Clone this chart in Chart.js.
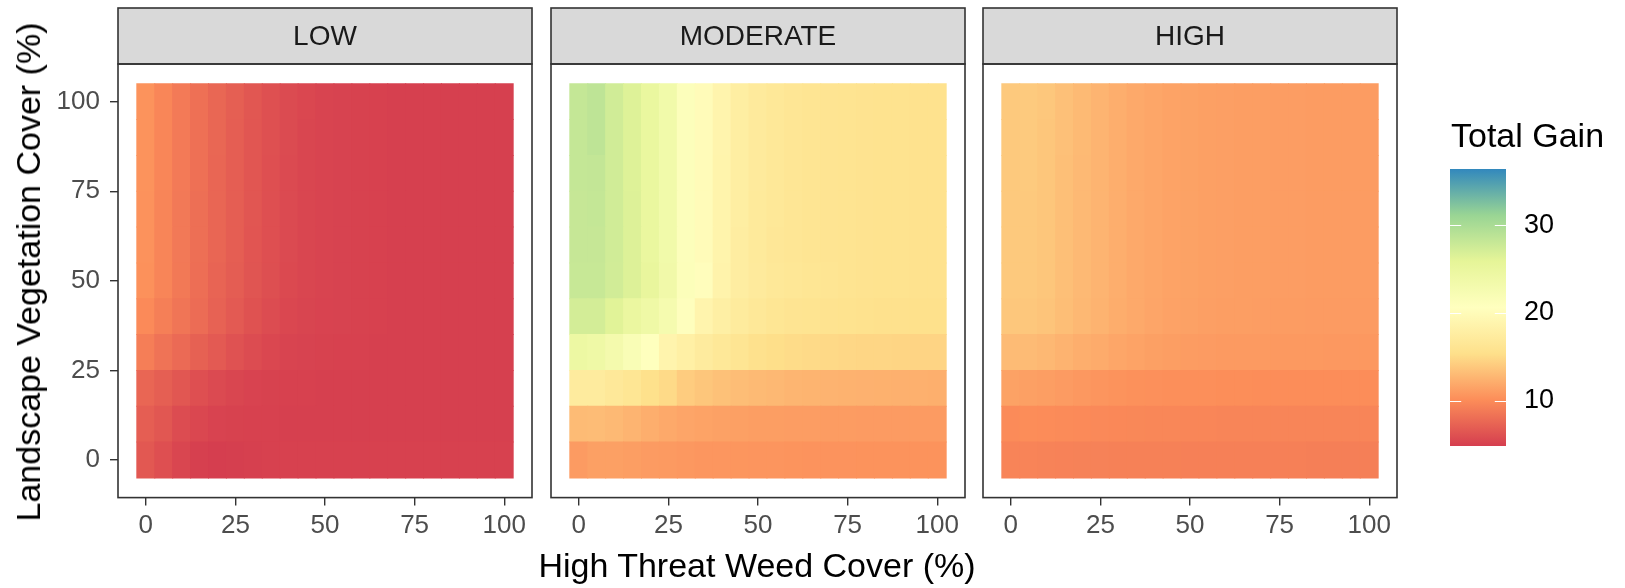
<!DOCTYPE html>
<html>
<head>
<meta charset="utf-8">
<title>Total Gain heatmaps</title>
<script src="https://cdn.jsdelivr.net/npm/chart.js@4.4.1/dist/chart.umd.min.js"></script>
<style>
  body { margin: 0; background: #fff; }
  #wrap { position: relative; width: 1625px; height: 588px; overflow: hidden; font-family: 'Liberation Sans', Arial, sans-serif; }
  #wrap canvas { position: absolute; top: 0; }
  .lbl { position: absolute; white-space: nowrap; font-size: 34px; line-height: 1; color: #000; }
</style>
</head>
<body>
<div id="wrap">
  <canvas id="lowChart" width="546" height="588" style="left:0px"></canvas>
  <canvas id="moderateChart" width="546" height="588" style="left:433px"></canvas>
  <canvas id="highChart" width="546" height="588" style="left:865px"></canvas>
  <canvas id="legendChart" width="215" height="588" style="left:1410px"></canvas>
  <div class="lbl" id="xTitle" style="left:757px; top:548px; transform:translateX(-50%);">High Threat Weed Cover (%)</div>
  <div class="lbl" id="yTitle" style="left:28px; top:272px; transform:translate(-50%,-50%) rotate(-90deg);">Landscape Vegetation Cover (%)</div>
  <div class="lbl" id="legendTitle" style="left:1451px; top:118px;">Total Gain</div>
</div>
<script>
// axes / categories
const weedCover = [0, 5, 10, 15, 20, 25, 30, 35, 40, 45, 50, 55, 60, 65, 70, 75, 80, 85, 90, 95, 100];
const vegCover = [0, 10, 20, 30, 40, 50, 60, 70, 80, 90, 100];
const xTicks = [0, 25, 50, 75, 100];
const yTicks = [0, 25, 50, 75, 100];
const legendTicks = [10, 20, 30];
const panelNames = ["LOW", "MODERATE", "HIGH"];

// Total Gain, one row per vegetation cover (0 at the bottom), one value per weed cover
const lowGain = [
  [6.6, 6.0, 5.4, 4.95, 4.85, 4.9, 5.0, 5.05, 5.05, 5.05, 5.05, 5.05, 5.05, 5.05, 5.05, 5.05, 5.05, 5.05, 5.05, 5.05, 5.05],
  [7.0, 6.5, 5.8, 5.45, 5.2, 5.1, 5.05, 5.05, 5.0, 5.0, 5.0, 5.0, 5.0, 5.0, 5.0, 5.0, 5.0, 5.0, 5.0, 5.0, 5.0],
  [7.5, 7.05, 6.5, 6.0, 5.65, 5.4, 5.2, 5.1, 5.05, 5.05, 5.0, 5.0, 5.0, 5.0, 5.0, 5.0, 5.0, 5.0, 5.0, 5.0, 5.0],
  [9.1, 8.4, 7.8, 7.2, 6.7, 6.2, 5.75, 5.45, 5.25, 5.15, 5.1, 5.05, 5.05, 5.0, 5.0, 5.0, 5.0, 5.0, 5.0, 5.0, 5.0],
  [9.9, 9.2, 8.5, 7.9, 7.25, 6.7, 6.15, 5.75, 5.45, 5.3, 5.2, 5.15, 5.1, 5.05, 5.0, 5.0, 5.0, 5.0, 5.0, 5.0, 5.0],
  [10.35, 9.55, 8.75, 8.05, 7.4, 6.9, 6.35, 5.95, 5.6, 5.4, 5.25, 5.15, 5.1, 5.05, 5.0, 5.0, 5.0, 5.0, 5.0, 5.0, 5.0],
  [10.4, 9.6, 8.8, 8.1, 7.5, 7.0, 6.4, 6.0, 5.65, 5.4, 5.25, 5.15, 5.1, 5.05, 5.0, 5.0, 5.0, 5.0, 5.0, 5.0, 5.0],
  [10.4, 9.6, 8.8, 8.1, 7.5, 7.0, 6.45, 6.0, 5.65, 5.4, 5.25, 5.15, 5.1, 5.05, 5.0, 5.0, 5.0, 5.0, 5.0, 5.0, 5.0],
  [10.45, 9.65, 8.85, 8.15, 7.5, 7.0, 6.45, 6.0, 5.65, 5.4, 5.25, 5.15, 5.1, 5.05, 5.0, 5.0, 5.0, 5.0, 5.0, 5.0, 5.0],
  [10.45, 9.65, 8.85, 8.15, 7.55, 7.0, 6.45, 6.05, 5.7, 5.4, 5.25, 5.15, 5.1, 5.05, 5.0, 5.0, 5.0, 5.0, 5.0, 5.0, 5.0],
  [10.45, 9.65, 8.85, 8.2, 7.55, 7.05, 6.5, 6.05, 5.7, 5.45, 5.25, 5.15, 5.1, 5.05, 5.0, 5.0, 5.0, 5.0, 5.0, 5.0, 5.0],
];
const moderateGain = [
  [11.0, 11.3, 11.3, 11.2, 11.0, 10.9, 10.8, 10.7, 10.7, 10.65, 10.6, 10.6, 10.55, 10.5, 10.5, 10.5, 10.45, 10.45, 10.45, 10.45, 10.45],
  [13.0, 13.1, 12.9, 12.6, 12.2, 11.9, 11.65, 11.5, 11.35, 11.3, 11.2, 11.15, 11.1, 11.1, 11.05, 11.05, 11.0, 11.0, 11.0, 11.0, 11.0],
  [17.3, 17.3, 16.8, 16.3, 15.5, 15.0, 14.1, 13.7, 13.4, 13.15, 12.95, 12.8, 12.65, 12.55, 12.5, 12.45, 12.4, 12.35, 12.3, 12.3, 12.25],
  [24.4, 24.0, 23.0, 21.8, 20.8, 18.8, 18.0, 17.3, 16.7, 16.2, 15.6, 15.3, 15.1, 15.0, 14.9, 14.8, 14.75, 14.7, 14.65, 14.6, 14.6],
  [27.2, 27.2, 26.2, 24.8, 24.0, 22.8, 20.9, 18.8, 17.9, 17.2, 16.7, 16.3, 16.1, 16.0, 15.9, 15.8, 15.7, 15.6, 15.6, 15.5, 15.5],
  [28.0, 28.0, 27.3, 26.5, 25.2, 23.6, 21.3, 20.3, 18.6, 17.6, 17.1, 16.7, 16.5, 16.3, 16.2, 16.0, 15.9, 15.8, 15.8, 15.7, 15.7],
  [28.1, 28.1, 27.4, 26.5, 25.0, 23.5, 21.2, 20.0, 18.7, 17.6, 17.0, 16.6, 16.4, 16.2, 16.1, 16.0, 15.9, 15.8, 15.8, 15.7, 15.7],
  [28.1, 28.2, 27.4, 26.5, 25.0, 23.5, 21.2, 20.0, 18.7, 17.7, 17.0, 16.7, 16.4, 16.2, 16.1, 16.0, 15.9, 15.8, 15.8, 15.7, 15.7],
  [28.2, 28.3, 27.4, 26.4, 25.0, 23.5, 21.2, 20.0, 18.7, 17.7, 17.1, 16.7, 16.4, 16.2, 16.1, 16.0, 15.9, 15.8, 15.8, 15.7, 15.7],
  [28.2, 28.6, 27.4, 26.4, 25.0, 23.5, 21.2, 20.0, 18.8, 17.7, 17.1, 16.7, 16.4, 16.2, 16.1, 16.0, 15.9, 15.8, 15.8, 15.7, 15.7],
  [28.2, 28.6, 27.4, 26.4, 25.0, 23.5, 21.2, 20.0, 18.8, 17.7, 17.1, 16.7, 16.4, 16.2, 16.1, 16.0, 15.9, 15.8, 15.8, 15.7, 15.7],
];
const highGain = [
  [9.5, 9.5, 9.45, 9.4, 9.35, 9.35, 9.3, 9.3, 9.3, 9.3, 9.25, 9.25, 9.25, 9.25, 9.25, 9.25, 9.25, 9.2, 9.2, 9.2, 9.2],
  [10.0, 10.1, 10.05, 9.95, 9.9, 9.85, 9.8, 9.75, 9.7, 9.7, 9.65, 9.65, 9.6, 9.6, 9.6, 9.6, 9.6, 9.6, 9.6, 9.6, 9.6],
  [11.4, 11.3, 11.2, 11.0, 10.8, 10.6, 10.45, 10.35, 10.3, 10.25, 10.2, 10.2, 10.15, 10.15, 10.1, 10.1, 10.1, 10.1, 10.1, 10.1, 10.1],
  [13.0, 13.0, 12.8, 12.5, 12.2, 12.0, 11.7, 11.5, 11.3, 11.2, 11.05, 11.0, 10.95, 10.9, 10.9, 10.85, 10.85, 10.85, 10.8, 10.8, 10.8],
  [13.8, 13.8, 13.6, 13.2, 12.8, 12.5, 12.1, 11.85, 11.65, 11.45, 11.35, 11.25, 11.2, 11.15, 11.1, 11.05, 11.05, 11.0, 11.0, 11.0, 11.0],
  [13.9, 13.9, 13.7, 13.3, 12.9, 12.6, 12.2, 11.9, 11.7, 11.5, 11.4, 11.3, 11.25, 11.2, 11.15, 11.1, 11.1, 11.05, 11.05, 11.05, 11.05],
  [13.9, 13.9, 13.7, 13.3, 12.9, 12.6, 12.2, 11.9, 11.7, 11.5, 11.4, 11.3, 11.25, 11.2, 11.15, 11.1, 11.1, 11.05, 11.05, 11.05, 11.05],
  [13.9, 13.9, 13.7, 13.3, 12.9, 12.6, 12.2, 11.9, 11.7, 11.5, 11.4, 11.3, 11.25, 11.2, 11.15, 11.1, 11.1, 11.05, 11.05, 11.05, 11.05],
  [13.9, 13.95, 13.7, 13.3, 12.9, 12.6, 12.2, 11.9, 11.7, 11.5, 11.4, 11.3, 11.25, 11.2, 11.15, 11.1, 11.1, 11.05, 11.05, 11.05, 11.05],
  [13.9, 13.95, 13.7, 13.35, 12.95, 12.6, 12.2, 11.9, 11.7, 11.5, 11.4, 11.3, 11.25, 11.2, 11.15, 11.1, 11.1, 11.05, 11.05, 11.05, 11.05],
  [13.9, 13.95, 13.75, 13.35, 12.95, 12.6, 12.2, 11.9, 11.7, 11.5, 11.4, 11.3, 11.25, 11.2, 11.15, 11.1, 11.1, 11.05, 11.05, 11.05, 11.05],
];

// colour scale limits (Spectral, red = low)
const gainMin = 4.84;
const gainMax = 36.4;
const spectral = ["#D53E4F", "#FC8D59", "#FEE08B", "#FFFFBF", "#E6F598", "#99D594", "#3288BD"];

Chart.defaults.font.family = "'Liberation Sans', Arial, sans-serif";

const hexToRgb = (h) => [parseInt(h.slice(1, 3), 16), parseInt(h.slice(3, 5), 16), parseInt(h.slice(5, 7), 16)];
const spectralRgb = spectral.map(hexToRgb);

function gainColor(v) {
  const t = Math.max(0, Math.min(1, (v - gainMin) / (gainMax - gainMin))) * (spectralRgb.length - 1);
  const i = Math.min(Math.floor(t), spectralRgb.length - 2);
  const f = t - i;
  const a = spectralRgb[i], b = spectralRgb[i + 1];
  const c = a.map((ch, k) => Math.round(ch + (b[k] - ch) * f));
  return "rgb(" + c.join(",") + ")";
}

const STRIP_TOP = 8;
const PANEL_TOP = 64;
const PANEL_BOTTOM = 497.6;

// strip on top + panel border (theme_bw look)
const panelFrame = {
  id: "panelFrame",
  afterDraw(chart, args, opts) {
    const { ctx, chartArea: a } = chart;
    const w = a.right - a.left;
    ctx.save();
    ctx.lineWidth = 1.6;
    ctx.strokeStyle = "#333333";
    ctx.fillStyle = "#D9D9D9";
    ctx.fillRect(a.left, STRIP_TOP, w, a.top - STRIP_TOP);
    ctx.strokeRect(a.left, STRIP_TOP, w, a.top - STRIP_TOP);
    ctx.strokeRect(a.left, a.top, w, a.bottom - a.top);
    ctx.fillStyle = "#1A1A1A";
    ctx.font = "28px 'Liberation Sans', Arial, sans-serif";
    ctx.textAlign = "center";
    ctx.textBaseline = "middle";
    ctx.fillText(opts.title, a.left + w / 2, (STRIP_TOP + a.top) / 2 + 1);
    ctx.restore();
  },
};

function makePanel(canvasId, title, gainRows, showYAxis) {
  const ctx = document.getElementById(canvasId).getContext("2d");
  const datasets = vegCover.map((veg, r) => ({
    label: "veg " + veg,
    data: weedCover.map((weed) => ({ x: weed, y: [veg - 5, veg + 5] })),
    backgroundColor: gainRows[r].map(gainColor),
    grouped: false,
    barPercentage: 1,
    categoryPercentage: 1,
    borderWidth: 0,
    inflateAmount: 0.5,
  }));
  return new Chart(ctx, {
    type: "bar",
    data: { datasets: datasets },
    options: {
      responsive: false,
      animation: false,
      events: [],
      layout: { padding: { top: PANEL_TOP, right: 14, bottom: 0, left: 0 }, autoPadding: false },
      plugins: { legend: { display: false }, tooltip: { enabled: false }, panelFrame: { title: title } },
      scales: {
        x: {
          type: "linear",
          min: -7.75,
          max: 107.75,
          offset: false,
          afterBuildTicks: (s) => { s.ticks = xTicks.map((v) => ({ value: v })); },
          afterFit: (s) => { s.height = 588 - PANEL_BOTTOM; },
          grid: { offset: false, drawOnChartArea: false, color: "#333333", lineWidth: 1.4, tickLength: 8 },
          border: { display: false },
          ticks: { color: "#4D4D4D", font: { size: 26 }, padding: 5, maxRotation: 0, autoSkip: false },
        },
        y: {
          type: "linear",
          min: -10.5,
          max: 110.5,
          afterBuildTicks: (s) => { s.ticks = yTicks.map((v) => ({ value: v })); },
          afterFit: (s) => { s.width = 118; },
          grid: { display: showYAxis, offset: false, drawOnChartArea: false, color: "#333333", lineWidth: 1.4, tickLength: 8 },
          border: { display: false },
          ticks: { display: showYAxis, color: "#4D4D4D", font: { size: 26 }, padding: 10, autoSkip: false },
        },
      },
    },
    plugins: [panelFrame],
  });
}

makePanel("lowChart", panelNames[0], lowGain, true);
makePanel("moderateChart", panelNames[1], moderateGain, false);
makePanel("highChart", panelNames[2], highGain, false);

// colour bar legend
const colourbarTicks = {
  id: "colourbarTicks",
  afterDatasetsDraw(chart) {
    const { ctx, chartArea: a, scales } = chart;
    const len = (a.right - a.left) / 5;
    ctx.save();
    ctx.strokeStyle = "#FFFFFF";
    ctx.lineWidth = 1.2;
    legendTicks.forEach((v) => {
      const y = Math.round(scales.y.getPixelForValue(v)) + 0.5;
      ctx.beginPath();
      ctx.moveTo(a.left, y); ctx.lineTo(a.left + len, y);
      ctx.moveTo(a.right - len, y); ctx.lineTo(a.right, y);
      ctx.stroke();
    });
    ctx.restore();
  },
};

new Chart(document.getElementById("legendChart").getContext("2d"), {
  type: "bar",
  data: {
    labels: ["Total Gain"],
    datasets: [{
      data: [[gainMin, gainMax]],
      backgroundColor: (c) => {
        const chart = c.chart;
        if (!chart.chartArea) return spectral[0];
        const ys = chart.scales.y;
        const g = chart.ctx.createLinearGradient(0, ys.getPixelForValue(gainMin), 0, ys.getPixelForValue(gainMax));
        spectral.forEach((col, i) => g.addColorStop(i / (spectral.length - 1), col));
        return g;
      },
      barPercentage: 1,
      categoryPercentage: 1,
      borderWidth: 0,
    }],
  },
  options: {
    responsive: false,
    animation: false,
    events: [],
    layout: { padding: { top: 169, right: 0, bottom: 142, left: 40 }, autoPadding: false },
    plugins: { legend: { display: false }, tooltip: { enabled: false } },
    scales: {
      x: { display: false },
      y: {
        position: "right",
        min: gainMin,
        max: gainMax,
        afterBuildTicks: (s) => { s.ticks = legendTicks.map((v) => ({ value: v })); },
        afterFit: (s) => { s.width = 119; },
        grid: { display: false, drawTicks: false },
        border: { display: false },
        ticks: { color: "#000000", font: { size: 27 }, padding: 18 },
      },
    },
  },
  plugins: [colourbarTicks],
});
</script>
</body>
</html>
